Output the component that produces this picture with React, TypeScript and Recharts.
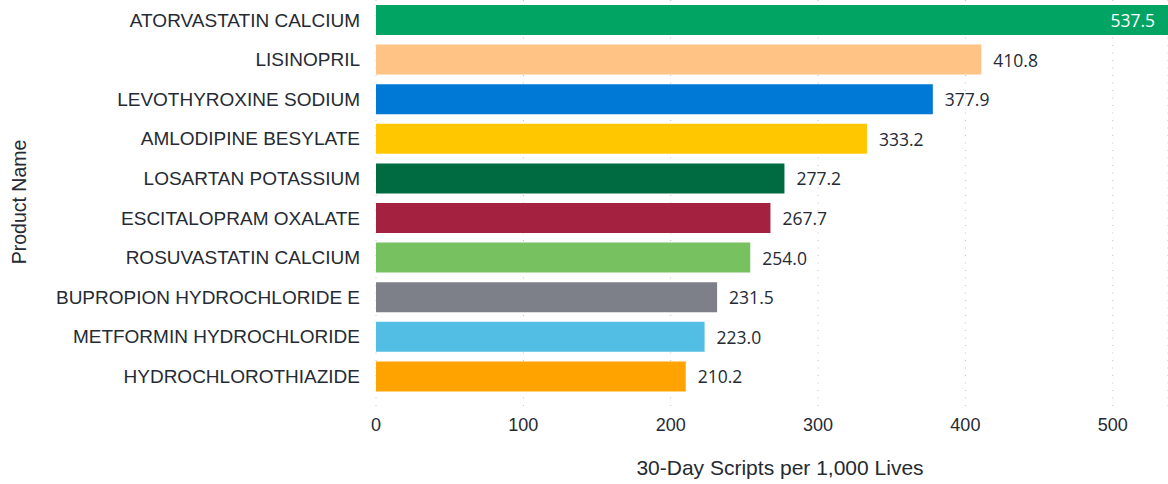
import React from "react";
import { BarChart, Bar, XAxis, YAxis, CartesianGrid, Cell, LabelList } from "recharts";

const products = [
  "ATORVASTATIN CALCIUM",
  "LISINOPRIL",
  "LEVOTHYROXINE SODIUM",
  "AMLODIPINE BESYLATE",
  "LOSARTAN POTASSIUM",
  "ESCITALOPRAM OXALATE",
  "ROSUVASTATIN CALCIUM",
  "BUPROPION HYDROCHLORIDE E",
  "METFORMIN HYDROCHLORIDE",
  "HYDROCHLOROTHIAZIDE",
];
const scripts = [537.5, 410.8, 377.9, 333.2, 277.2, 267.7, 254.0, 231.5, 223.0, 210.2];
const colors = [
  "#01A462",
  "#FFC386",
  "#0078D6",
  "#FFC700",
  "#006B41",
  "#A4213F",
  "#77C160",
  "#7D8088",
  "#53BEE3",
  "#FFA300",
];
const xTicks = [0, 100, 200, 300, 400, 500];

const data = products.map((name, i) => ({ name, value: scripts[i] }));

const TEXT = "#252A33";
const AXIS_FONT = "'Liberation Sans', Arial, sans-serif";
const VALUE_FONT = "'Open Sans', 'Noto Sans', sans-serif";

const ValueLabel = (props: any) => {
  const { x, y, width, height, value, index } = props;
  const cy = Number(y) + Number(height) / 2;
  const inside = index === 0;
  const tx = inside ? Number(x) + Number(width) - 13 : Number(x) + Number(width) + 12;
  return (
    <text
      x={tx}
      y={cy}
      dominantBaseline="central"
      textAnchor={inside ? "end" : "start"}
      fill={inside ? "#FFFFFF" : TEXT}
      fontSize={17.5}
      fontFamily={VALUE_FONT}
    >
      {Number(value).toFixed(1)}
    </text>
  );
};

export default function App() {
  return (
    <div style={{ position: "absolute", left: 0, top: 0, background: "#fff" }}>
      <BarChart
        width={1168}
        height={484}
        data={data}
        layout="vertical"
        margin={{ top: 0, right: 0, bottom: 0, left: 0 }}
        barSize={30}
      >
        <CartesianGrid horizontal={false} stroke="#C0C0C0" strokeDasharray="1 6.5" />
        <XAxis
          type="number"
          domain={[0, "dataMax"]}
          ticks={xTicks}
          height={76}
          axisLine={false}
          tickLine={false}
          tickSize={0}
          tickMargin={10}
          tick={{ fontSize: 18, fill: TEXT, fontFamily: AXIS_FONT }}
          label={{
            content: (p: any) => {
              const vb = p.viewBox;
              return (
                <text
                  x={vb.x + vb.width / 2 + 8}
                  y={475}
                  textAnchor="middle"
                  fill={TEXT}
                  fontSize={21}
                  fontFamily={AXIS_FONT}
                >
                  30-Day Scripts per 1,000 Lives
                </text>
              );
            },
          }}
        />
        <YAxis
          type="category"
          dataKey="name"
          width={376}
          axisLine={false}
          tickLine={false}
          tickSize={0}
          tickMargin={16}
          padding={{ top: 0, bottom: 12 }}
          interval={0}
          tick={{ fontSize: 19, fill: TEXT, fontFamily: AXIS_FONT }}
          label={{
            content: () => (
              <text
                x={0}
                y={0}
                transform="translate(26, 202) rotate(-90)"
                textAnchor="middle"
                fill={TEXT}
                fontSize={19.5}
                fontFamily={AXIS_FONT}
              >
                Product Name
              </text>
            ),
          }}
        />
        <Bar dataKey="value" isAnimationActive={false}>
          {data.map((d, i) => (
            <Cell key={d.name} fill={colors[i]} />
          ))}
          <LabelList dataKey="value" content={<ValueLabel />} />
        </Bar>
      </BarChart>
    </div>
  );
}
